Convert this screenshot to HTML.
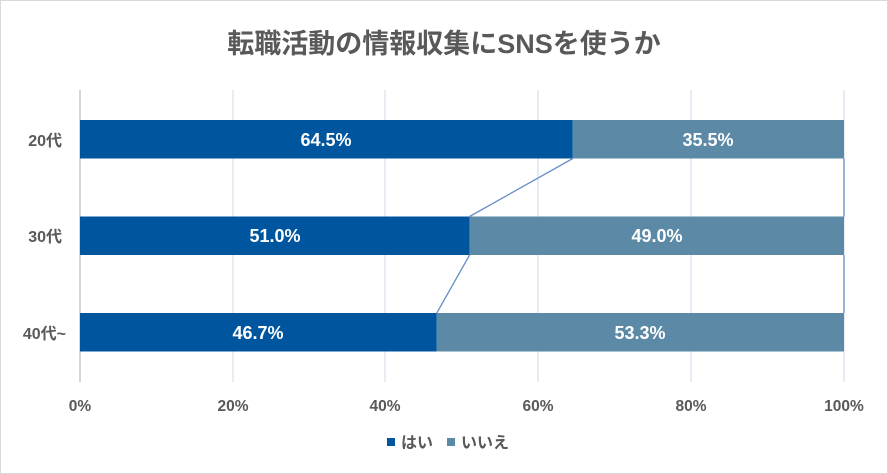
<!DOCTYPE html>
<html><head><meta charset="utf-8"><style>
body{margin:0;background:#fff;}
svg{display:block;font-family:"Liberation Sans","Noto Sans CJK JP",sans-serif;}
</style></head><body>
<svg width="888" height="474" viewBox="0 0 888 474">
<rect x="0.5" y="0.5" width="887" height="473" fill="#fff" stroke="#d9d9d9"/>
<text x="444" y="53" text-anchor="middle" font-size="27" font-weight="bold" fill="#595959">転職活動の情報収集にSNSを使うか</text>
<g stroke="#d9e1ef" stroke-width="1.3">
<line x1="233" y1="90" x2="233" y2="382"/><line x1="385" y1="90" x2="385" y2="382"/>
<line x1="538" y1="90" x2="538" y2="382"/><line x1="691" y1="90" x2="691" y2="382"/>
<line x1="844" y1="90" x2="844" y2="382"/>
</g>
<line x1="80" y1="90" x2="80" y2="382" stroke="#bfbfbf" stroke-width="1.3"/>
<rect x="80" y="120" width="492.8" height="38.5" fill="#00559F"/>
<rect x="572.8" y="120" width="271.2" height="38.5" fill="#5B89A6"/>
<rect x="80" y="216.5" width="389.6" height="38.5" fill="#00559F"/>
<rect x="469.6" y="216.5" width="374.4" height="38.5" fill="#5B89A6"/>
<rect x="80" y="313" width="356.8" height="38.5" fill="#00559F"/>
<rect x="436.8" y="313" width="407.2" height="38.5" fill="#5B89A6"/>
<g stroke="#6A8FC8" stroke-width="1.3" fill="none">
<polyline points="572.8,158.5 469.6,216.5"/><polyline points="469.6,255 436.8,313"/>
<polyline points="844,158.5 844,216.5"/><polyline points="844,255 844,313"/>
</g>
<g font-size="18" font-weight="bold" fill="#fff" text-anchor="middle">
<text x="326" y="146">64.5%</text><text x="708" y="146">35.5%</text>
<text x="275" y="242">51.0%</text><text x="657" y="242">49.0%</text>
<text x="258" y="339">46.7%</text><text x="640" y="339">53.3%</text>
</g>
<g font-size="16" font-weight="bold" fill="#595959">
<text x="62" y="146" text-anchor="end">20代</text>
<text x="62" y="242" text-anchor="end">30代</text>
<text x="66" y="339" text-anchor="end">40代~</text>
</g>
<g font-size="15.5" font-weight="bold" fill="#595959" text-anchor="middle">
<text x="80" y="411">0%</text><text x="233" y="411">20%</text><text x="385" y="411">40%</text>
<text x="538" y="411">60%</text><text x="691" y="411">80%</text><text x="844" y="411">100%</text>
</g>
<rect x="387" y="438" width="8" height="8" fill="#00559F"/>
<rect x="447" y="438" width="8" height="8" fill="#5B89A6"/>
<g font-size="16" font-weight="bold" fill="#595959">
<text x="401" y="448">はい</text><text x="461" y="448">いいえ</text>
</g>
</svg>
</body></html>
